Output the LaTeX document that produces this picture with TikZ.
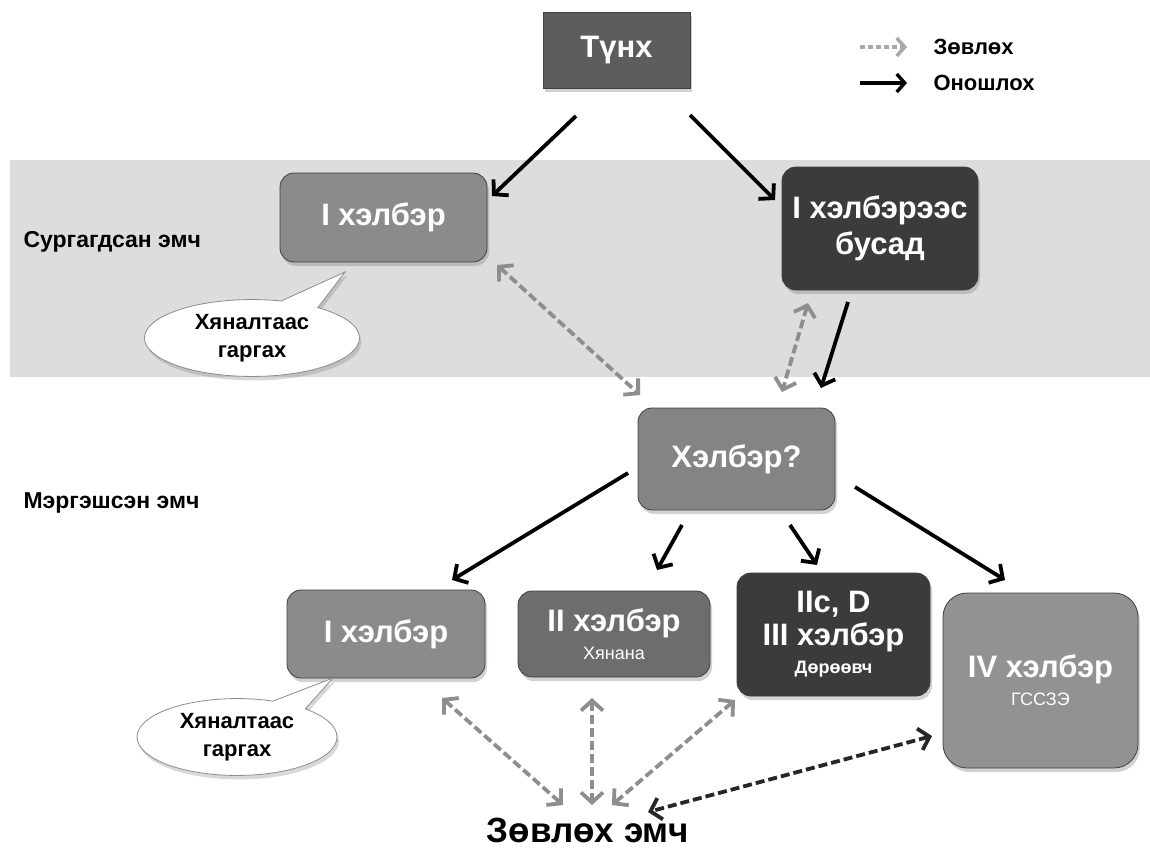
\documentclass[tikz,border=0pt]{standalone}
\usepackage{fontspec}
\setmainfont{Liberation Sans}
\usetikzlibrary{arrows.meta,shapes.callouts,shadows}
\definecolor{bandc}{HTML}{DDDDE0}
\definecolor{tunhc}{HTML}{5E5C5E}
\definecolor{lightbox}{HTML}{8C8A8C}
\definecolor{midbox}{HTML}{6E6C6E}
\definecolor{darkbox}{HTML}{3C3A3C}
\definecolor{ivbox}{HTML}{939193}
\definecolor{arrgray}{HTML}{8E8E8E}
\definecolor{leggray}{HTML}{A8A8A8}
\newcommand{\subtxt}{\fontsize{18}{21}\selectfont\mdseries}
\begin{document}
\begin{tikzpicture}[x=1pt,y=-1pt,
  box/.style={rectangle, rounded corners=14pt, draw=black!75, line width=0.8pt,
    text=white, align=center, inner sep=2pt,
    font=\fontsize{31}{36}\selectfont\bfseries,
    drop shadow={shadow xshift=2pt, shadow yshift=-4pt, opacity=0.35}},
  lbl/.style={font=\fontsize{23}{27}\selectfont\bfseries, anchor=west},
  bubble/.style={ellipse callout, draw=black!45, fill=white, line width=0.8pt,
    align=center, font=\fontsize{22}{28}\selectfont\bfseries,
    minimum width=215pt, minimum height=74pt, callout pointer arc=22,
    drop shadow={shadow xshift=2pt, shadow yshift=-4pt, opacity=0.3}},
  solidarr/.style={line width=3.8pt, black, -{Straight Barb[length=10pt,width=22pt]}},
  consarr/.style={line width=3.8pt, arrgray, dash pattern=on 9pt off 4pt,
    {Straight Barb[length=10pt,width=22pt]}-{Straight Barb[length=10pt,width=22pt]}},
  darkarr/.style={consarr, black!85}
]
\useasboundingbox (0,0) rectangle (1150,859);
\fill[white] (0,0) rectangle (1150,859);
\fill[bandc] (10,160) rectangle (1150,377);

% labels
\node[lbl] (sur) at (20,242) {Сургагдсан эмч};
\node[lbl] (mer) at (20,503) {Мэргэшсэн эмч};

% legend
\coordinate (la1) at (860,47); \coordinate (la2) at (907,47);
\coordinate (lb1) at (860,83); \coordinate (lb2) at (907,83);
\draw[line width=3.4pt, leggray, dash pattern=on 5pt off 3pt, -{Straight Barb[length=8pt,width=18pt]}] (la1) -- (la2);
\draw[line width=3.4pt, black, -{Straight Barb[length=8pt,width=18pt]}] (lb1) -- (lb2);
\node[lbl, font=\fontsize{22}{26}\selectfont\bfseries] (lega) at (930,47) {Зөвлөх};
\node[lbl, font=\fontsize{22}{26}\selectfont\bfseries] (legb) at (930,83) {Оношлох};

% boxes
\node[box, rounded corners=0pt, fill=tunhc, minimum width=147pt, minimum height=76pt] (tunh) at (616.5,50) {Түнх};
\node[box, fill=lightbox, minimum width=207pt, minimum height=89pt] (top1) at (383.5,217.5) {I хэлбэр};
\node[box, fill=darkbox, minimum width=196pt, minimum height=123pt] (busad) at (880,228.5) {I хэлбэрээс\\бусад};
\node[box, fill=lightbox!95!black, minimum width=197pt, minimum height=102pt] (helber) at (736.5,459) {Хэлбэр?};
\node[box, fill=lightbox, minimum width=198pt, minimum height=88pt] (bot1) at (386,634) {I хэлбэр};
\node[box, fill=midbox, minimum width=192pt, minimum height=86pt] (bot2) at (614,634) {II хэлбэр\\[-8pt]{\subtxt Хянана}};
\node[box, fill=darkbox, minimum width=193pt, minimum height=123pt] (iic) at (833.5,634.5) {IIc, D\\[-3pt]III хэлбэр\\[-8pt]{\fontsize{18}{21}\selectfont\bfseries Дөрөөвч}};
\node[box, fill=ivbox, rounded corners=24pt, minimum width=195pt, minimum height=175pt] (iv) at (1040.5,680.5) {IV хэлбэр\\[-8pt]{\subtxt ГССЗЭ}};

% bubbles
\node[bubble, callout absolute pointer={(345,272)}] (bub1) at (252,338) {Хяналтаас\\гаргах};
\node[bubble, minimum width=200pt, minimum height=76pt, callout absolute pointer={(333,678)}] (bub2) at (237,737) {Хяналтаас\\гаргах};

% bottom label
\node[font=\fontsize{35}{40}\selectfont\bfseries] (zov) at (588,830) {Зөвлөх эмч};

% solid arrows
\coordinate (s1a) at (576,116); \coordinate (s1b) at (492,196);
\coordinate (s2a) at (690,115); \coordinate (s2b) at (775,200);
\coordinate (s3a) at (848,302); \coordinate (s3b) at (821,388);
\coordinate (s4a) at (628,473); \coordinate (s4b) at (452,580);
\coordinate (s5a) at (682,525); \coordinate (s5b) at (657,570);
\coordinate (s6a) at (790,525); \coordinate (s6b) at (817,565);
\coordinate (s7a) at (855,487); \coordinate (s7b) at (1005,580);
\draw[solidarr] (s1a) -- (s1b);
\draw[solidarr] (s2a) -- (s2b);
\draw[solidarr] (s3a) -- (s3b);
\draw[solidarr] (s4a) -- (s4b);
\draw[solidarr] (s5a) -- (s5b);
\draw[solidarr] (s6a) -- (s6b);
\draw[solidarr] (s7a) -- (s7b);

% consult arrows
\coordinate (d1a) at (497,265); \coordinate (d1b) at (640,395);
\coordinate (d2a) at (808,303); \coordinate (d2b) at (782,392);
\coordinate (d3a) at (442,698); \coordinate (d3b) at (563,805);
\coordinate (d4a) at (592,698); \coordinate (d4b) at (592,805);
\coordinate (d5a) at (735,700); \coordinate (d5b) at (612,805);
\coordinate (d6a) at (932,736); \coordinate (d6b) at (648,812);
\draw[consarr] (d1a) -- (d1b);
\draw[consarr] (d2a) -- (d2b);
\draw[consarr] (d3a) -- (d3b);
\draw[consarr] (d4a) -- (d4b);
\draw[consarr] (d5a) -- (d5b);
\draw[darkarr] (d6a) -- (d6b);
\end{tikzpicture}
\end{document}
